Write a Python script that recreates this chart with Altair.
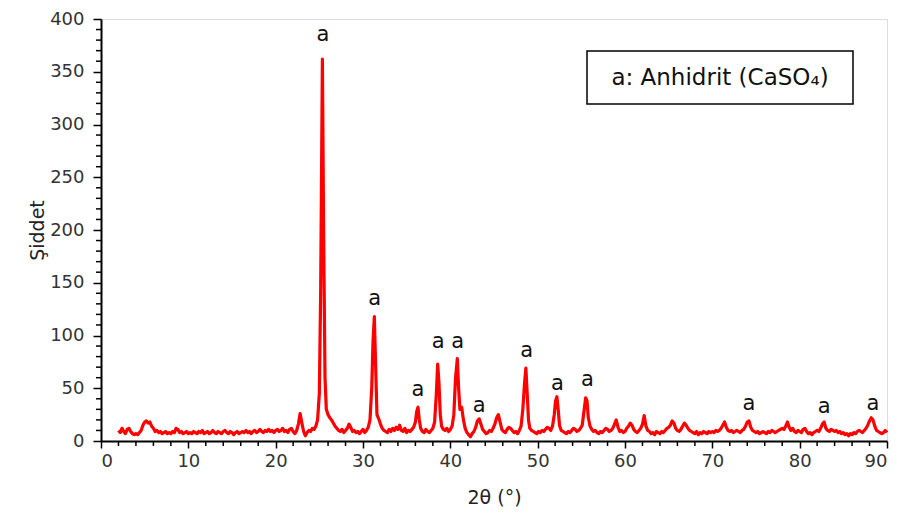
import altair as alt
import pandas as pd

two_theta = [
    2.0, 2.2, 2.4, 2.6, 2.8, 3.0, 3.2, 3.4, 3.6, 3.8, 4.0, 4.2, 4.4, 4.6, 4.8, 5.0, 5.2, 5.4, 5.6, 5.8,
    6.0, 6.2, 6.4, 6.6, 6.8, 7.0, 7.2, 7.4, 7.6, 7.8, 8.0, 8.2, 8.4, 8.6, 8.8, 9.0, 9.2, 9.4, 9.6, 9.8,
    10.0, 10.2, 10.4, 10.6, 10.8, 11.0, 11.2, 11.4, 11.6, 11.8, 12.0, 12.2, 12.4, 12.6, 12.8, 13.0, 13.2, 13.4, 13.6, 13.8,
    14.0, 14.2, 14.4, 14.6, 14.8, 15.0, 15.2, 15.4, 15.6, 15.8, 16.0, 16.2, 16.4, 16.6, 16.8, 17.0, 17.2, 17.4, 17.6, 17.8,
    18.0, 18.2, 18.4, 18.6, 18.8, 19.0, 19.2, 19.4, 19.6, 19.8, 20.0, 20.2, 20.4, 20.6, 20.8, 21.0, 21.2, 21.4, 21.6, 21.8,
    22.0, 22.2, 22.4, 22.6, 22.8, 23.0, 23.2, 23.4, 23.6, 23.8, 24.0, 24.2, 24.4, 24.6, 24.8, 25.0, 25.15, 25.35, 25.5, 25.65,
    25.8, 26.0, 26.2, 26.4, 26.6, 26.8, 27.0, 27.2, 27.4, 27.6, 27.8, 28.0, 28.2, 28.4, 28.6, 28.8, 29.0, 29.2, 29.4, 29.6,
    29.8, 30.0, 30.2, 30.4, 30.6, 30.8, 31.0, 31.15, 31.3, 31.45, 31.6, 31.8, 32.0, 32.2, 32.4, 32.6, 32.8, 33.0, 33.2, 33.4,
    33.6, 33.8, 34.0, 34.2, 34.4, 34.6, 34.8, 35.0, 35.2, 35.4, 35.6, 35.8, 36.0, 36.15, 36.3, 36.45, 36.6, 36.8, 37.0, 37.2,
    37.4, 37.6, 37.8, 38.0, 38.2, 38.4, 38.55, 38.7, 38.85, 39.0, 39.2, 39.4, 39.6, 39.8, 40.0, 40.2, 40.4, 40.6, 40.8, 40.95,
    41.1, 41.3, 41.5, 41.7, 41.9, 42.1, 42.3, 42.5, 42.7, 42.9, 43.1, 43.3, 43.5, 43.7, 43.9, 44.1, 44.3, 44.5, 44.7, 44.9,
    45.1, 45.3, 45.5, 45.7, 45.9, 46.1, 46.3, 46.5, 46.7, 46.9, 47.1, 47.3, 47.5, 47.7, 47.9, 48.1, 48.3, 48.5, 48.65, 48.8,
    48.95, 49.1, 49.3, 49.5, 49.7, 49.9, 50.1, 50.3, 50.5, 50.7, 50.9, 51.1, 51.3, 51.5, 51.7, 51.9, 52.05, 52.2, 52.35, 52.5,
    52.7, 52.9, 53.1, 53.3, 53.5, 53.7, 53.9, 54.1, 54.3, 54.5, 54.7, 54.9, 55.1, 55.3, 55.5, 55.65, 55.8, 56.0, 56.2, 56.4,
    56.6, 56.8, 57.0, 57.2, 57.4, 57.6, 57.8, 58.0, 58.2, 58.4, 58.6, 58.8, 59.0, 59.2, 59.4, 59.6, 59.8, 60.0, 60.2, 60.4,
    60.6, 60.8, 61.0, 61.2, 61.4, 61.6, 61.8, 62.0, 62.2, 62.4, 62.6, 62.8, 63.0, 63.2, 63.4, 63.6, 63.8, 64.0, 64.2, 64.4,
    64.6, 64.8, 65.0, 65.2, 65.4, 65.6, 65.8, 66.0, 66.2, 66.4, 66.6, 66.8, 67.0, 67.2, 67.4, 67.6, 67.8, 68.0, 68.2, 68.4,
    68.6, 68.8, 69.0, 69.2, 69.4, 69.6, 69.8, 70.0, 70.2, 70.4, 70.6, 70.8, 71.0, 71.2, 71.4, 71.6, 71.8, 72.0, 72.2, 72.4,
    72.6, 72.8, 73.0, 73.2, 73.4, 73.6, 73.8, 74.0, 74.2, 74.4, 74.6, 74.8, 75.0, 75.2, 75.4, 75.6, 75.8, 76.0, 76.2, 76.4,
    76.6, 76.8, 77.0, 77.2, 77.4, 77.6, 77.8, 78.0, 78.2, 78.4, 78.6, 78.8, 79.0, 79.2, 79.4, 79.6, 79.8, 80.0, 80.2, 80.4,
    80.6, 80.8, 81.0, 81.2, 81.4, 81.6, 81.8, 82.0, 82.2, 82.4, 82.6, 82.8, 83.0, 83.2, 83.4, 83.6, 83.8, 84.0, 84.2, 84.4,
    84.6, 84.8, 85.0, 85.2, 85.4, 85.6, 85.8, 86.0, 86.2, 86.4, 86.6, 86.8, 87.0, 87.2, 87.4, 87.6, 87.8, 88.0, 88.2, 88.4,
    88.6, 88.8, 89.0, 89.2, 89.4, 89.6, 89.8, 90.0,
]

intensity = [
    10, 8, 12, 9, 7, 11, 12, 9, 7, 6, 7, 6, 8, 10, 15, 18, 19, 17, 18, 14,
    12, 9, 10, 8, 9, 7, 8, 9, 7, 8, 7, 9, 8, 12, 11, 8, 9, 7, 8, 9,
    7, 8, 7, 9, 8, 7, 9, 8, 10, 7, 8, 9, 7, 8, 10, 8, 7, 9, 8, 7,
    9, 10, 8, 7, 9, 8, 6, 8, 9, 7, 8, 9, 8, 10, 8, 9, 7, 9, 10, 8,
    9, 11, 9, 8, 10, 9, 11, 9, 10, 8, 10, 11, 9, 10, 12, 9, 10, 8, 11, 12,
    9, 7, 10, 16, 26, 17, 9, 5, 8, 10, 9, 12, 11, 14, 20, 45, 140, 362, 190, 60,
    30, 25, 22, 20, 17, 14, 12, 10, 9, 11, 8, 10, 12, 16, 13, 9, 10, 8, 9, 7,
    9, 11, 8, 10, 13, 20, 50, 95, 118, 70, 25, 21, 16, 12, 10, 9, 8, 11, 9, 12,
    10, 13, 11, 15, 10, 9, 12, 8, 10, 9, 11, 13, 18, 28, 32, 20, 12, 9, 8, 11,
    9, 8, 10, 12, 18, 45, 73, 55, 25, 14, 11, 10, 12, 9, 11, 14, 25, 60, 78, 50,
    30, 32, 20, 12, 8, 6, 4, 7, 9, 13, 19, 21, 16, 11, 9, 7, 8, 10, 9, 12,
    16, 22, 25, 18, 11, 9, 8, 11, 13, 12, 10, 8, 9, 7, 10, 14, 30, 55, 69, 45,
    20, 12, 10, 9, 8, 7, 9, 8, 10, 9, 11, 13, 12, 10, 14, 25, 38, 42, 30, 15,
    10, 9, 8, 7, 9, 8, 10, 12, 11, 9, 10, 12, 15, 28, 41, 38, 22, 14, 11, 9,
    10, 8, 7, 9, 8, 10, 12, 11, 9, 10, 12, 16, 20, 13, 9, 10, 8, 9, 12, 14,
    17, 15, 11, 9, 8, 10, 12, 16, 24, 14, 10, 9, 7, 8, 6, 9, 8, 7, 9, 8,
    10, 12, 13, 15, 19, 17, 12, 10, 9, 11, 14, 17, 15, 12, 10, 9, 8, 7, 9, 6,
    8, 7, 9, 8, 7, 9, 8, 9, 8, 10, 9, 10, 12, 15, 18, 13, 10, 9, 10, 8,
    9, 10, 9, 8, 10, 11, 14, 18, 19, 13, 10, 9, 8, 9, 7, 8, 9, 8, 7, 9,
    8, 10, 9, 8, 9, 10, 11, 12, 11, 14, 18, 13, 10, 12, 9, 8, 10, 9, 8, 11,
    12, 9, 7, 8, 6, 8, 9, 10, 9, 12, 16, 18, 12, 10, 9, 11, 10, 9, 10, 8,
    9, 7, 8, 6, 7, 5, 7, 6, 8, 7, 9, 10, 9, 8, 10, 12, 15, 19, 22, 20,
    14, 10, 9, 8, 7, 8, 10, 8,
]

label_x = [25.4, 31.35, 36.3, 38.6, 40.85, 43.3, 48.75, 52.25, 55.7, 74.2, 82.8, 88.4]
label_y = [385, 135, 48, 94, 94, 33, 85, 54, 58, 35, 32, 35]
label_text = ["a"] * len(label_x)

legend_text = "a: Anhidrit (CaSO₄)"

x_major = [0, 10, 20, 30, 40, 50, 60, 70, 80, 90]
x_minor = [v for v in range(0, 91, 2) if v % 10 != 0]
y_major = [0, 50, 100, 150, 200, 250, 300, 350, 400]
y_minor = [v for v in range(0, 401, 10) if v % 50 != 0]

FONT = "DejaVu Sans"
TOP = 11
W, H = 786, 422

spec = pd.DataFrame({"theta": two_theta, "intensity": intensity})
labels = pd.DataFrame({"theta": label_x, "intensity": label_y, "txt": label_text})
xminor_df = pd.DataFrame({"theta": x_minor})
yminor_df = pd.DataFrame({"intensity": y_minor})

x_axis = alt.Axis(
    values=x_major,
    tickSize=7,
    tickColor="black",
    tickWidth=1.5,
    domainColor="black",
    domainWidth=2,
    grid=False,
    labelFont=FONT,
    labelFontSize=18,
    labelColor="#333333",
    labelPadding=4,
    title="2θ (°)",
    titleFont=FONT,
    titleFontSize=19,
    titleFontWeight="normal",
    titleColor="#222222",
    titleY=56,
    titleBaseline="middle",
)

y_axis = alt.Axis(
    values=y_major,
    tickSize=8,
    tickColor="black",
    tickWidth=1.5,
    domainColor="black",
    domainWidth=2,
    grid=False,
    labelFont=FONT,
    labelFontSize=18,
    labelColor="#333333",
    labelPadding=9,
    title="Şiddet",
    titleFont=FONT,
    titleFontSize=19,
    titleFontWeight="normal",
    titleColor="#222222",
    titleX=-64,
    titleBaseline="middle",
)

xs = alt.Scale(domain=[0, 90], nice=False, zero=False)
ys = alt.Scale(domain=[0, 400], nice=False)

line = alt.Chart(spec).mark_line(color="#ff0000", strokeWidth=3.2, strokeJoin="round").encode(
    x=alt.X("theta:Q", scale=xs, axis=x_axis),
    y=alt.Y("intensity:Q", scale=ys, axis=y_axis),
)

x_minor_ticks = alt.Chart(xminor_df).mark_rule(color="black", strokeWidth=1.5).encode(
    x=alt.X("theta:Q", scale=xs),
    y=alt.value(H),
    y2=alt.value(H + 5),
)

y_minor_ticks = alt.Chart(yminor_df).mark_rule(color="black", strokeWidth=1.5).encode(
    y=alt.Y("intensity:Q", scale=ys),
    x=alt.value(-5),
    x2=alt.value(0),
)

peak_labels = alt.Chart(labels).mark_text(
    font=FONT, fontSize=21, color="#111111", baseline="middle", align="center"
).encode(
    x=alt.X("theta:Q", scale=xs),
    y=alt.Y("intensity:Q", scale=ys),
    text="txt:N",
)

box = alt.Chart(alt.Data(values=[{}])).mark_rect(
    fill="white", stroke="black", strokeWidth=1.5
).encode(
    x=alt.value(486), x2=alt.value(752), y=alt.value(51 - 8 - TOP), y2=alt.value(104 - 8 - TOP)
)

legend_label = alt.Chart(alt.Data(values=[{}])).mark_text(
    text=legend_text, font=FONT, fontSize=23, color="#111111", align="center", baseline="middle"
).encode(x=alt.value(619), y=alt.value(78 - 8 - TOP))

chart = alt.layer(line, x_minor_ticks, y_minor_ticks, peak_labels, box, legend_label).properties(
    width=W,
    height=H,
    autosize=alt.AutoSizeParams(type="none"),
    padding={"left": 93, "top": TOP, "right": 9, "bottom": 80},
).configure_view(stroke=None).configure(background="white")

chart.save("out.html", embed_options={"renderer": "svg", "actions": False})
